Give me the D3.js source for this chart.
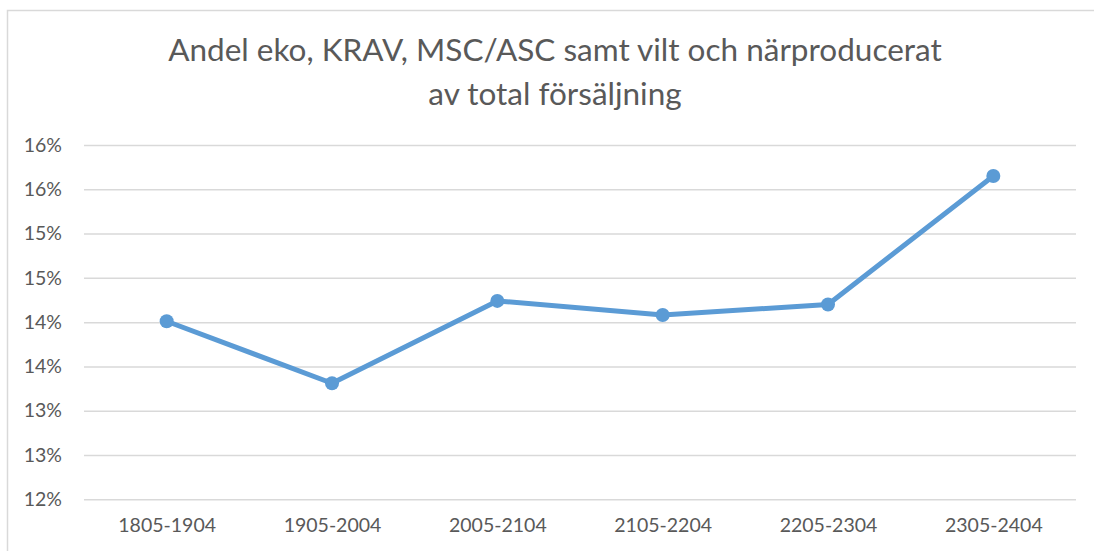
<!DOCTYPE html>
<html>
<head>
<meta charset="utf-8">
<script src="https://cdn.jsdelivr.net/npm/d3@7"></script>
<style>
    html, body { margin: 0; padding: 0; background: #fff; overflow: hidden; }
    svg { display: block; font-family: Lato, 'Open Sans', sans-serif; }
</style>
</head>
<body>
<div id="chart"></div>
<script>
// DATA

const periods = ['1805-1904', '1905-2004', '2005-2104', '2105-2204', '2205-2304', '2305-2404'];
const shares = [14.01, 13.31, 14.24, 14.08, 14.20, 15.65];
const tickValues = [12, 12.5, 13, 13.5, 14, 14.5, 15, 15.5, 16];
const tickLabels = ['12%', '13%', '13%', '14%', '14%', '15%', '15%', '16%', '16%'];
const titleLines = ['Andel eko, KRAV, MSC/ASC samt vilt och närproducerat', 'av total försäljning'];

// CONFIG

const width = 1094,
    height = 551;

const plot = {
    left: 84,
    right: 1076,
    top: 145,
    bottom: 499.3
};

const text_color = '#595959',
    grid_color = '#d9d9d9',
    line_color = '#5b9bd5';

// D3

const svg = d3.select('#chart')
    .append('svg')
    .attr('width', width)
    .attr('height', height);

// chart border: only the left and top edges are in the picture
svg.append('path')
    .attr('d', `M7.5,${height} V10.5 H${width}`)
    .attr('fill', 'none')
    .attr('stroke', '#d9d9d9')
    .attr('stroke-width', 1.5);

svg.append('text')
    .attr('text-anchor', 'middle')
    .style('font-size', '31.5px')
    .style('fill', text_color)
    .selectAll('tspan')
    .data(titleLines)
    .enter()
    .append('tspan')
        .attr('x', 555)
        .attr('y', (d, i) => 61 + i * 44)
        .text((d) => d);

const x_scale = d3.scalePoint()
    .domain(periods)
    .range([plot.left, plot.right])
    .padding(0.5);

const y_scale = d3.scaleLinear()
    .domain([12, 16])
    .range([plot.bottom, plot.top]);

const y_axis = d3.axisLeft(y_scale)
    .tickValues(tickValues)
    .tickSize(-(plot.right - plot.left))
    .tickPadding(22)
    .tickFormat((d, i) => tickLabels[i]);

svg.append('g')
    .attr('id', 'y-axis')
    .attr('transform', `translate(${plot.left}, 0)`)
    .call(y_axis)
    .call((g) => g.select('.domain').remove())
    .call((g) => g.selectAll('line').attr('stroke', grid_color).attr('stroke-width', 1.5))
    .call((g) => g.selectAll('text')
        .style('font-size', '19.5px')
        .style('fill', text_color)
        .style('font-family', 'Lato, sans-serif'));

const x_axis = d3.axisBottom(x_scale)
    .tickSize(0)
    .tickPadding(19);

svg.append('g')
    .attr('id', 'x-axis')
    .attr('transform', `translate(0, ${plot.bottom})`)
    .call(x_axis)
    .call((g) => g.select('.domain').remove())
    .call((g) => g.selectAll('text')
        .style('font-size', '19.5px')
        .style('fill', text_color)
        .style('font-family', 'Lato, sans-serif'));

const line = d3.line()
    .x((d, i) => x_scale(periods[i]))
    .y((d) => y_scale(d));

svg.append('path')
    .datum(shares)
    .attr('d', line)
    .attr('fill', 'none')
    .attr('stroke', line_color)
    .attr('stroke-width', 5)
    .attr('stroke-linejoin', 'round');

svg.selectAll('circle.dot')
    .data(shares)
    .enter()
    .append('circle')
    .attr('class', 'dot')
    .attr('cx', (d, i) => x_scale(periods[i]))
    .attr('cy', (d) => y_scale(d))
    .attr('r', 7)
    .attr('fill', line_color);
</script>
</body>
</html>
